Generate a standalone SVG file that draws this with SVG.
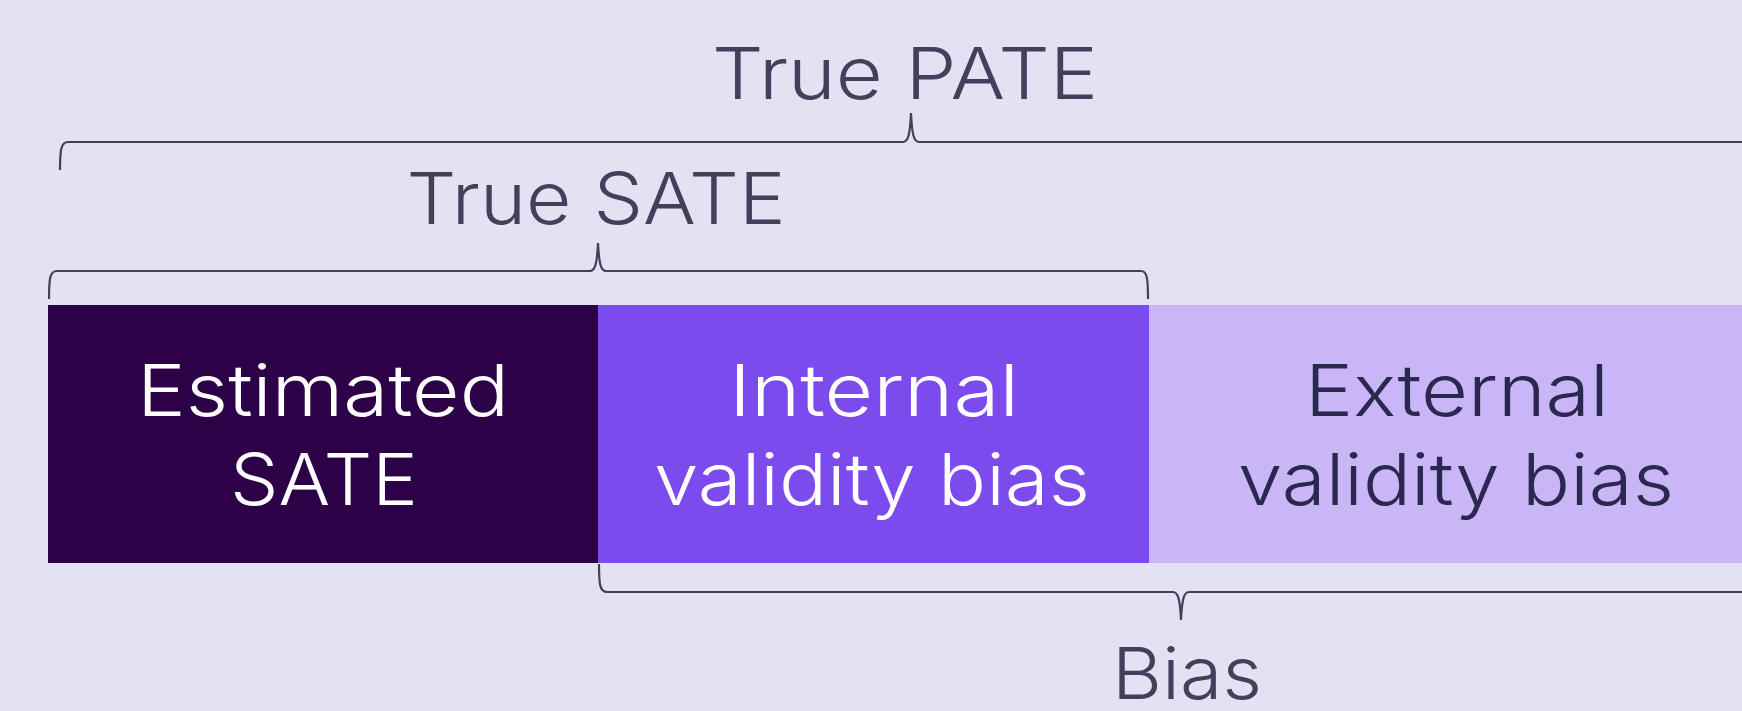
<svg xmlns="http://www.w3.org/2000/svg" width="1742" height="711" viewBox="0 0 1742 711">
<style>
.lbl{font-family:Inter,"DejaVu Sans",sans-serif;font-size:72px;font-weight:300;text-anchor:middle}
.dim{fill:#42405a}
.wht{fill:#ffffff}
.nav{fill:#2a2750}
.br{fill:none;stroke:#42405a;stroke-width:2.2}
</style>
<rect x="0" y="0" width="1742" height="711" fill="#e2e2f2"/>
<g id="estimated-sate">
<rect x="48" y="305" width="550" height="258" fill="#2d0148"/>
<text class="lbl wht" x="323" y="416" textLength="372" lengthAdjust="spacingAndGlyphs">Estimated</text>
<text class="lbl wht" x="324" y="505" textLength="188" lengthAdjust="spacingAndGlyphs">SATE</text>
</g>
<g id="internal-bias">
<rect x="598" y="305" width="551" height="258" fill="#7b4bee"/>
<text class="lbl wht" x="874" y="416" textLength="290" lengthAdjust="spacingAndGlyphs">Internal</text>
<text class="lbl wht" x="872" y="505" textLength="436" lengthAdjust="spacingAndGlyphs">validity bias</text>
</g>
<g id="external-bias">
<rect x="1149" y="305" width="600" height="258" fill="#c9b6f7"/>
<text class="lbl nav" x="1457" y="416" textLength="304" lengthAdjust="spacingAndGlyphs">External</text>
<text class="lbl nav" x="1456" y="505" textLength="436" lengthAdjust="spacingAndGlyphs">validity bias</text>
</g>
<g id="true-pate">
<text class="lbl dim" x="905" y="99" textLength="386" lengthAdjust="spacingAndGlyphs">True PATE</text>
</g>
<g id="true-sate">
<text class="lbl dim" x="596" y="224" textLength="379" lengthAdjust="spacingAndGlyphs">True SATE</text>
</g>
<g id="bias">
<text class="lbl dim" x="1187" y="699" textLength="150" lengthAdjust="spacingAndGlyphs">Bias</text>
</g>
<g id="connectors">
<path class="br" d="M60,170 C60,150 61,142 68,142 L903,142 C908,142 910,135 911,113 C912,135 914,142 919,142 L1760,142"/>
<path class="br" d="M49,299 C49,278 50,271 57,271 L590,271 C595,271 597,264 598,243 C599,264 601,271 606,271 L1141,271 C1147,271 1148,278 1148,299"/>
<path class="br" d="M599,564 C599,585 600,592 607,592 L1173,592 C1178,592 1180,599 1181,620 C1182,599 1184,592 1189,592 L1763,592"/>
</g>
</svg>
